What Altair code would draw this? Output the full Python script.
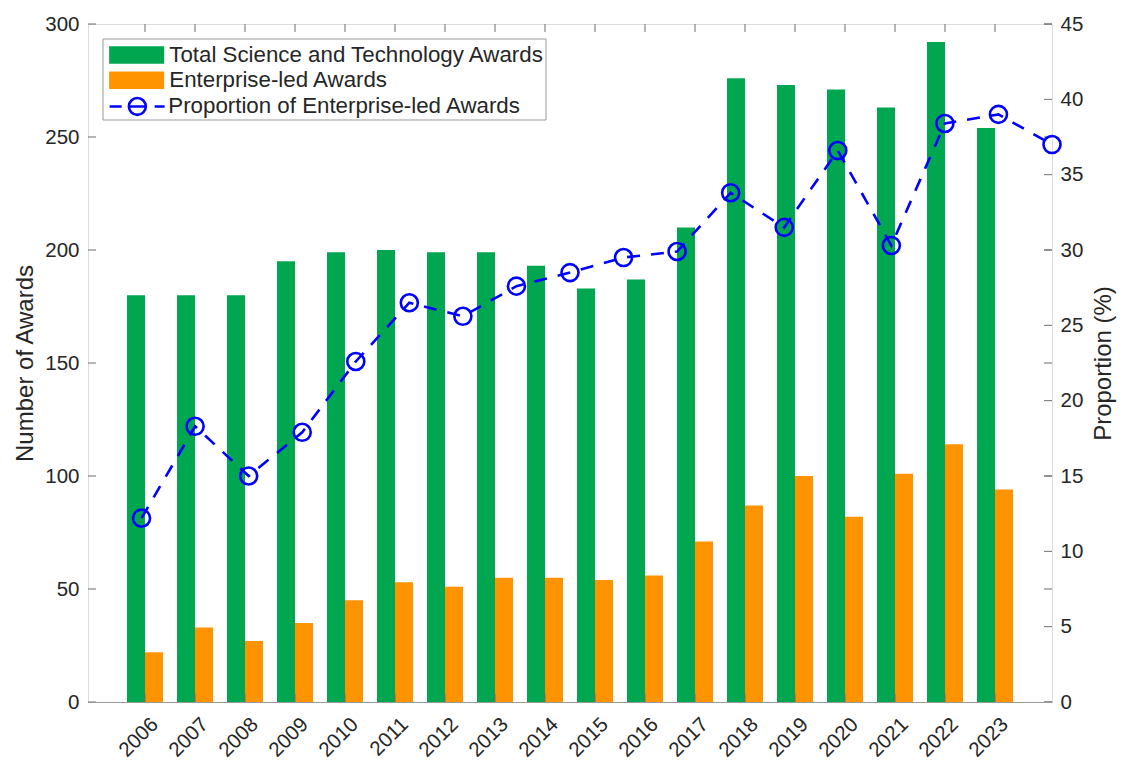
import altair as alt
import pandas as pd

# ---------------- data ----------------
years = ["2006", "2007", "2008", "2009", "2010", "2011", "2012", "2013", "2014",
         "2015", "2016", "2017", "2018", "2019", "2020", "2021", "2022", "2023"]
total_awards = [180, 180, 180, 195, 199, 200, 199, 199, 193,
                183, 187, 210, 276, 273, 271, 263, 292, 254]
enterprise_awards = [22, 33, 27, 35, 45, 53, 51, 55, 55,
                     54, 56, 71, 87, 100, 82, 101, 114, 94]
proportion_pct = [12.2, 18.3, 15.0, 17.9, 22.6, 26.5, 25.6, 27.6, 28.5,
                  29.5, 29.9, 33.8, 31.5, 36.6, 30.3, 38.4, 39.0, 37.0]
left_ticks = [0, 50, 100, 150, 200, 250, 300]
right_ticks = [0, 5, 10, 15, 20, 25, 30, 35, 40, 45]

S_TOTAL = "Total Science and Technology Awards"
S_ENT = "Enterprise-led Awards"
S_PROP = "Proportion of Enterprise-led Awards"

bar_rows = []
for y, t, e in zip(years, total_awards, enterprise_awards):
    bar_rows.append({"year": y, "series": S_TOTAL, "value": t})
    bar_rows.append({"year": y, "series": S_ENT, "value": e})
bar_df = pd.DataFrame(bar_rows)
year_df = pd.DataFrame({"year": years})
lt_df = pd.DataFrame({"value": left_ticks})
rt_df = pd.DataFrame({"prop": right_ticks})
prop_df = pd.DataFrame({"year": years, "prop": proportion_pct, "sname": [S_PROP] * len(years)})

# ---------------- styling ----------------
W, H = 964, 678
FONT = "Liberation Sans"
TXT = "#262626"
GRAY = "#9a9a9a"
TICK = "#6e6e6e"
GREEN = "#00a650"
ORANGE = "#ff9400"
BLUE = "#0000ff"
TL = 8  # inward tick length

x_scale = alt.Scale(paddingInner=0.28, paddingOuter=0.78)
yl_scale = alt.Scale(domain=[0, 300], nice=False, zero=True)
yr_scale = alt.Scale(domain=[0, 45], nice=False, zero=True)
xi_scale = alt.Scale(domain=[0, 18], nice=False, zero=True)
no_grid = alt.Axis(grid=False)

# ---------------- bars (left axis) ----------------
bars = alt.Chart(bar_df).mark_bar().encode(
    x=alt.X("year:N", scale=x_scale,
            axis=alt.Axis(orient="bottom", title=None, labelAngle=-45, labelAlign="right",
                          labelBaseline="middle", labelPadding=19, labelOffset=10,
                          ticks=False, domain=True, domainColor=GRAY, zindex=1, grid=False,
                          labelFontSize=20.5, labelColor=TXT, labelFont=FONT)),
    xOffset=alt.XOffset("series:N", sort=[S_TOTAL, S_ENT],
                        scale=alt.Scale(paddingInner=0, paddingOuter=0)),
    y=alt.Y("value:Q", scale=yl_scale,
            axis=alt.Axis(orient="left", title="Number of Awards", values=left_ticks,
                          ticks=False, labelPadding=9, domain=False, grid=False,
                          labelFontSize=20.5, labelColor=TXT, labelFont=FONT,
                          titleX=-63, titleY=H / 2, titleAngle=270, titleAlign="center",
                          titleBaseline="middle", titleFontSize=24, titleFontWeight="normal",
                          titleColor=TXT, titleFont=FONT)),
    fill=alt.Fill("series:N", sort=[S_TOTAL, S_ENT],
                  scale=alt.Scale(domain=[S_TOTAL, S_ENT], range=[GREEN, ORANGE]),
                  legend=alt.Legend(title=None, orient="none", legendX=37.5, legendY=19.8,
                                    symbolType="M-3.056,-0.978H3.056V0.978H-3.056Z",
                                    symbolSize=324, symbolStrokeWidth=0,
                                    labelFontSize=22.3, labelFont=FONT, labelColor=TXT,
                                    labelOffset=21.5, rowPadding=2.3, padding=0,
                                    labelLimit=800)),
)

# inward tick marks on the box edges, placed through the shared scales
bottom_ticks = alt.Chart(year_df).mark_rule(color=TICK, strokeWidth=1).encode(
    x=alt.X("year:N", scale=x_scale, axis=no_grid), y=alt.value(H), y2=alt.value(H - TL))
top_ticks = alt.Chart(year_df).mark_rule(color=TICK, strokeWidth=1).encode(
    x=alt.X("year:N", scale=x_scale, axis=no_grid), y=alt.value(0), y2=alt.value(TL))
left_in_ticks = alt.Chart(lt_df).mark_rule(color=TICK, strokeWidth=1).encode(
    y=alt.Y("value:Q", scale=yl_scale, axis=no_grid), x=alt.value(0), x2=alt.value(TL))
left_mirror_ticks = alt.Chart(lt_df).mark_rule(color=TICK, strokeWidth=1).encode(
    y=alt.Y("value:Q", scale=yl_scale, axis=no_grid), x=alt.value(W - TL), x2=alt.value(W))

legend_box = alt.Chart(alt.Data(values=[{"box": 1}])).mark_rect(
    fill="white", stroke=GRAY, strokeWidth=1
).encode(x=alt.value(15), x2=alt.value(458), y=alt.value(15), y2=alt.value(96))

left_group = alt.layer(bars, bottom_ticks, top_ticks, left_in_ticks,
                       left_mirror_ticks, legend_box)

# ---------------- proportion line (right axis) ----------------
line = alt.Chart(prop_df).transform_calculate(
    idx="toNumber(datum.year) - 2005"
).mark_line().encode(
    x=alt.X("idx:Q", scale=xi_scale, axis=None),
    y=alt.Y("prop:Q", scale=yr_scale,
            axis=alt.Axis(orient="right", title="Proportion (%)", values=right_ticks,
                          ticks=False, labelPadding=8, domain=False, grid=False,
                          labelFontSize=20.5, labelColor=TXT, labelFont=FONT,
                          titleX=51, titleY=H / 2, titleAngle=270, titleAlign="center",
                          titleBaseline="middle", titleFontSize=24, titleFontWeight="normal",
                          titleColor=TXT, titleFont=FONT)),
    stroke=alt.Stroke("sname:N", scale=alt.Scale(domain=[S_PROP], range=[BLUE]),
                      legend=alt.Legend(title=None, orient="none", legendX=38.2, legendY=71.3,
                                        symbolType="M-3.08,0H-1.74M1.92,0H3.03M-0.94,0H0.94M-0.94,0A0.94,0.94 0 1,0 0.94,0A0.94,0.94 0 1,0 -0.94,0",
                                        symbolSize=324, symbolStrokeWidth=2.6,
                                        symbolFillColor="transparent", labelFontSize=22.3,
                                        labelFont=FONT, labelColor=TXT, labelOffset=19.8,
                                        padding=0, labelLimit=800)),
    strokeWidth=alt.value(2.6),
    strokeDash=alt.value([13, 11]),
)

points = alt.Chart(prop_df).transform_calculate(
    idx="toNumber(datum.year) - 2005"
).mark_point(filled=False, size=290, strokeWidth=2.6, color=BLUE, opacity=1).encode(
    x=alt.X("idx:Q", scale=xi_scale, axis=None),
    y=alt.Y("prop:Q", scale=yr_scale, axis=no_grid),
)

right_in_ticks = alt.Chart(rt_df).mark_rule(color=TICK, strokeWidth=1).encode(
    y=alt.Y("prop:Q", scale=yr_scale, axis=no_grid), x=alt.value(W - TL), x2=alt.value(W))

right_group = alt.layer(line, points, right_in_ticks)

chart = alt.layer(left_group, right_group).resolve_scale(
    x="independent", y="independent"
).properties(
    width=W, height=H,
    padding={"left": 80, "top": 16, "right": 70, "bottom": 58},
    autosize=alt.AutoSizeParams(type="none"),
).configure_view(stroke=GRAY, strokeWidth=1).configure_axis(grid=False).configure(font=FONT)

chart.save("out.html", embed_options={"renderer": "svg", "actions": False})
